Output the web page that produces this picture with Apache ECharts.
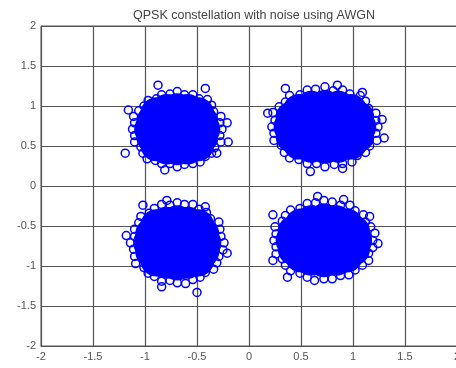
<!DOCTYPE html>
<html>
<head>
<meta charset="utf-8">
<script src="https://cdn.jsdelivr.net/npm/echarts@6/dist/echarts.min.js"></script>
<style>
  html, body { margin: 0; padding: 0; background: #fff; }
  #chart-qpsk { width: 456px; height: 368px; }
</style>
</head>
<body>
<div id="chart-qpsk"></div>
<script>
// axis ticks
const ticks = [-2, -1.5, -1, -0.5, 0, 0.5, 1, 1.5, 2];

// dense centre of each noise cloud
const coreUL = [[-0.69,0.71],[-0.95,0.71],[-0.43,0.71],[-0.69,0.96],[-0.69,0.46],[-0.89,0.91],[-0.49,0.91],[-0.89,0.51],[-0.49,0.51],[-0.82,0.71],[-0.56,0.71],[-0.69,0.84],[-0.69,0.58],[-0.45,0.81],[-0.93,0.81],[-0.45,0.61],[-0.93,0.61],[-0.59,0.95],[-0.79,0.95],[-0.59,0.47],[-0.79,0.47]];
const coreUR = [[0.73,0.74],[0.39,0.74],[1.07,0.74],[0.56,0.74],[0.90,0.74],[0.73,1.00],[0.73,0.48],[0.73,0.87],[0.73,0.61],[0.48,0.95],[0.98,0.95],[0.48,0.53],[0.98,0.53],[0.41,0.86],[1.05,0.86],[0.41,0.62],[1.05,0.62],[0.60,0.99],[0.86,0.99],[0.60,0.49],[0.86,0.49]];
const coreLL = [[-0.69,-0.71],[-0.96,-0.71],[-0.42,-0.71],[-0.69,-0.44],[-0.69,-0.98],[-0.89,-0.49],[-0.49,-0.49],[-0.89,-0.93],[-0.49,-0.93],[-0.94,-0.60],[-0.44,-0.60],[-0.94,-0.82],[-0.44,-0.82],[-0.69,-0.58],[-0.69,-0.84],[-0.82,-0.71],[-0.56,-0.71],[-0.59,-0.46],[-0.79,-0.46],[-0.59,-0.96],[-0.79,-0.96]];
const coreLR = [[0.72,-0.68],[0.41,-0.68],[1.03,-0.68],[0.72,-0.42],[0.72,-0.94],[0.50,-0.48],[0.94,-0.48],[0.50,-0.88],[0.94,-0.88],[0.43,-0.57],[1.01,-0.57],[0.43,-0.79],[1.01,-0.79],[0.57,-0.68],[0.87,-0.68],[0.72,-0.55],[0.72,-0.81],[0.60,-0.44],[0.84,-0.44],[0.60,-0.92],[0.84,-0.92]];

// received symbols on the rim of each cloud, plus outliers
const edgeUL = [[-0.26,0.71],[-0.28,0.79],[-0.27,0.87],[-0.34,0.93],[-0.36,1.01],[-0.40,1.08],[-0.48,1.09],[-0.54,1.14],[-0.62,1.14],[-0.69,1.18],[-0.76,1.15],[-0.84,1.14],[-0.89,1.09],[-0.97,1.07],[-1.01,1.00],[-1.06,0.94],[-1.11,0.87],[-1.10,0.79],[-1.12,0.71],[-1.10,0.63],[-1.10,0.55],[-1.04,0.49],[-1.02,0.41],[-0.98,0.34],[-0.90,0.32],[-0.84,0.28],[-0.76,0.28],[-0.69,0.24],[-0.62,0.27],[-0.54,0.28],[-0.47,0.30],[-0.42,0.37],[-0.36,0.41],[-0.33,0.48],[-0.27,0.55],[-0.28,0.63],
  [-0.875,1.26],[-0.42,1.22],[-1.19,0.41],[-0.31,0.41],[-0.81,0.20],[-0.21,0.79],[-0.20,0.55],[-1.16,0.95]];
const edgeUR = [[1.24,0.74],[1.22,0.82],[1.22,0.91],[1.15,0.97],[1.12,1.06],[1.07,1.13],[0.97,1.15],[0.90,1.20],[0.81,1.19],[0.73,1.24],[0.64,1.21],[0.56,1.20],[0.49,1.14],[0.39,1.13],[0.35,1.05],[0.29,0.99],[0.23,0.92],[0.25,0.82],[0.22,0.74],[0.24,0.66],[0.24,0.57],[0.31,0.51],[0.34,0.42],[0.39,0.35],[0.48,0.33],[0.56,0.28],[0.65,0.28],[0.73,0.24],[0.82,0.27],[0.90,0.28],[0.99,0.30],[1.04,0.38],[1.12,0.42],[1.16,0.50],[1.23,0.57],[1.22,0.66],
  [1.28,0.83],[0.85,1.26],[1.09,1.17],[0.35,1.22],[0.18,0.91],[0.59,0.18],[0.90,0.22],[1.30,0.60]];
const edgeLL = [[-0.24,-0.71],[-0.27,-0.63],[-0.28,-0.54],[-0.29,-0.45],[-0.37,-0.41],[-0.41,-0.33],[-0.48,-0.29],[-0.54,-0.23],[-0.62,-0.23],[-0.69,-0.21],[-0.76,-0.24],[-0.84,-0.23],[-0.91,-0.28],[-0.96,-0.34],[-1.04,-0.38],[-1.06,-0.46],[-1.10,-0.54],[-1.10,-0.63],[-1.14,-0.71],[-1.11,-0.79],[-1.10,-0.88],[-1.09,-0.97],[-1.01,-1.02],[-0.97,-1.09],[-0.91,-1.13],[-0.84,-1.19],[-0.76,-1.18],[-0.69,-1.21],[-0.61,-1.22],[-0.54,-1.17],[-0.47,-1.14],[-0.42,-1.08],[-0.34,-1.04],[-0.31,-0.96],[-0.29,-0.88],[-0.25,-0.80],
  [-0.50,-1.33],[-0.84,-1.26],[-0.21,-0.84],[-1.02,-0.24],[-0.79,-0.18],[-0.42,-0.26],[-1.18,-0.62]];
const edgeLR = [[1.19,-0.68],[1.21,-0.59],[1.17,-0.51],[1.12,-0.45],[1.10,-0.36],[1.02,-0.31],[0.97,-0.24],[0.88,-0.24],[0.80,-0.20],[0.72,-0.18],[0.64,-0.21],[0.56,-0.22],[0.49,-0.28],[0.40,-0.30],[0.35,-0.37],[0.32,-0.44],[0.25,-0.51],[0.26,-0.60],[0.24,-0.68],[0.26,-0.76],[0.26,-0.85],[0.32,-0.91],[0.35,-0.99],[0.40,-1.06],[0.49,-1.09],[0.56,-1.14],[0.63,-1.18],[0.72,-1.16],[0.80,-1.16],[0.88,-1.12],[0.96,-1.11],[1.02,-1.05],[1.09,-0.99],[1.15,-0.93],[1.15,-0.84],[1.19,-0.77],
  [0.23,-0.36],[1.16,-0.38],[0.66,-0.13],[0.91,-0.17],[0.23,-0.93],[0.37,-1.14],[1.24,-0.72]];

const blue = '#0000ff';
const core = coreUL.concat(coreUR, coreLL, coreLR);
const edge = edgeUL.concat(edgeUR, edgeLL, edgeLR);

const axisCommon = {
  type: 'value',
  min: ticks[0],
  max: ticks[ticks.length - 1],
  interval: 0.5,
  axisLine: { show: true, onZero: false, lineStyle: { color: '#555', width: 1 } },
  axisTick: { show: false },
  axisLabel: {
    color: '#555',
    fontSize: 11,
    margin: 5,
    fontFamily: 'Liberation Sans, Arial, sans-serif',
    showMinLabel: true,
    showMaxLabel: true,
    formatter: v => String(v)
  },
  splitLine: { show: true, lineStyle: { color: '#555', width: 1.2 } }
};

const option = {
  animation: false,
  title: {
    text: 'QPSK constellation with noise using AWGN',
    left: 249,
    top: 4,
    textAlign: 'center',
    textStyle: { color: '#444', fontSize: 12.5, fontWeight: 'normal', fontFamily: 'Liberation Sans, Arial, sans-serif' }
  },
  grid: {
    left: 41, top: 26, width: 416, height: 320,
    outerBoundsMode: 'none',
    containLabel: false,
    show: true, borderColor: '#555', borderWidth: 1, backgroundColor: '#fff'
  },
  xAxis: Object.assign({}, axisCommon),
  yAxis: Object.assign({}, axisCommon),
  series: [
    {
      type: 'scatter',
      data: core,
      symbol: 'circle',
      symbolSize: 32,
      silent: true,
      itemStyle: { color: blue, borderWidth: 0, opacity: 1 }
    },
    {
      type: 'scatter',
      data: edge,
      symbol: 'circle',
      symbolSize: 8,
      silent: true,
      itemStyle: { color: 'rgba(0,0,0,0)', borderColor: blue, borderWidth: 1.5, opacity: 1 }
    }
  ]
};

let myChart = echarts.init(document.getElementById('chart-qpsk'));
myChart.setOption(option, true);
</script>
</body>
</html>
